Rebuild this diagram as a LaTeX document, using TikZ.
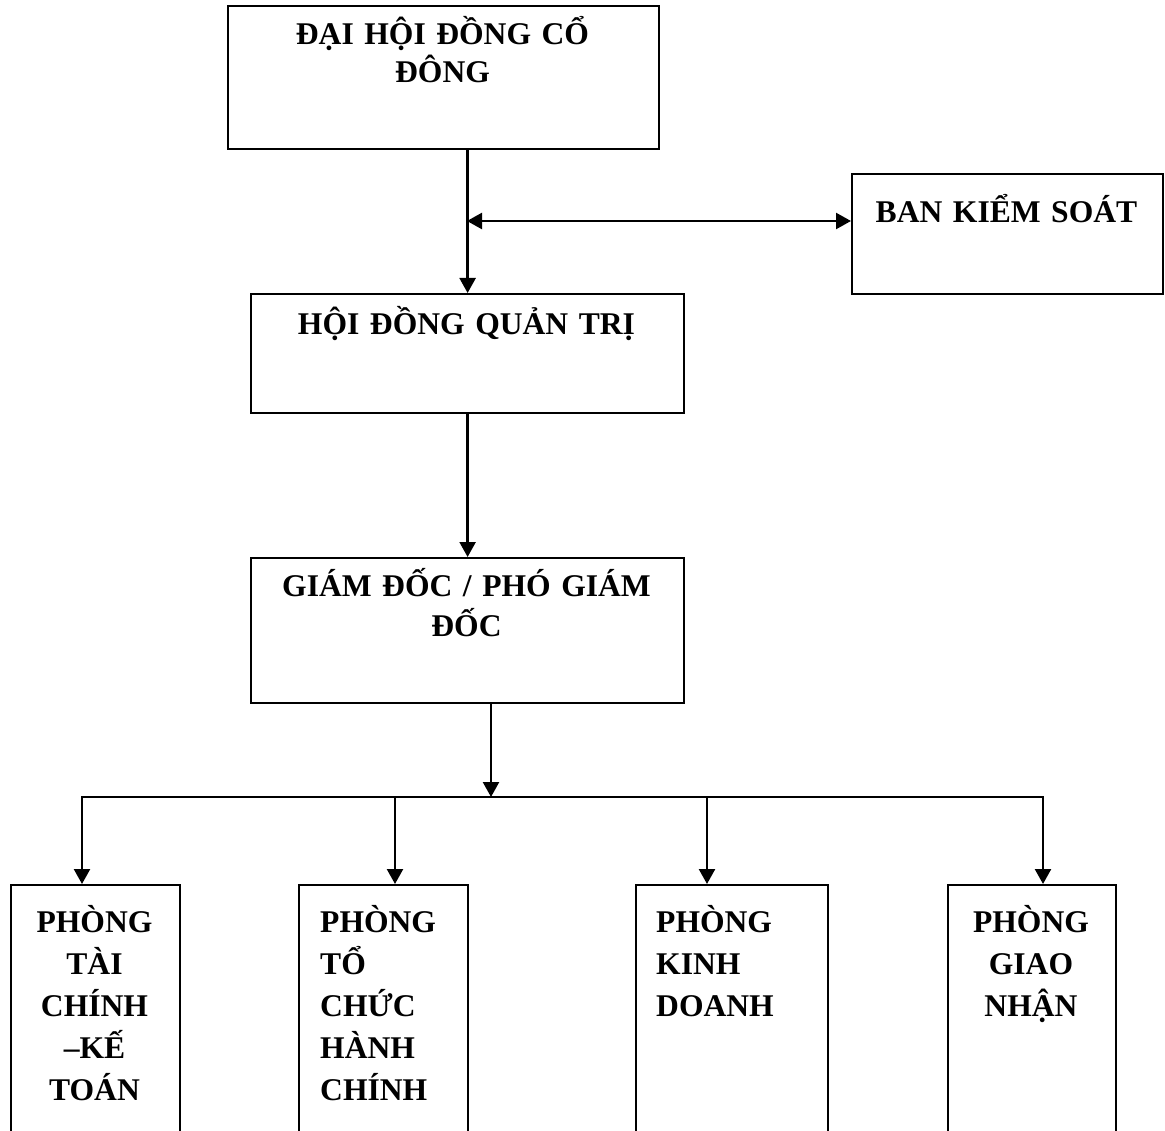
\documentclass[tikz,border=0pt]{standalone}
\usepackage{fontspec}
\setmainfont{Liberation Serif}
\usetikzlibrary{arrows.meta,calc}
\begin{document}
\begin{tikzpicture}[x=1pt,y=-1pt,
  box/.style={draw=black, line width=2.2pt, rectangle, inner sep=0pt, anchor=north west},
  lbl/.style={inner sep=0pt, font=\bfseries\fontsize{31.6}{42}\selectfont},
  conn/.style={line width=2.4pt, draw=black},
  arr/.style={conn, -{Triangle[length=15pt,width=16pt]}},
  darr/.style={conn, {Triangle[length=15pt,width=16pt]}-{Triangle[length=15pt,width=16pt]}}
]
\clip (0,0) rectangle (1165,1131);
\fill[white] (0,0) rectangle (1165,1131);

% boxes
\node[box, minimum width=431pt, minimum height=143pt] (b1) at (227,5) {};
\node[box, minimum width=311pt, minimum height=120pt] (bks) at (851,173) {};
\node[box, minimum width=433pt, minimum height=119pt] (b2) at (250,293) {};
\node[box, minimum width=433pt, minimum height=145pt] (b3) at (250,557) {};
\node[box, minimum width=169pt, minimum height=270pt] (p1) at (10,884) {};
\node[box, minimum width=169pt, minimum height=270pt] (p2) at (298,884) {};
\node[box, minimum width=192pt, minimum height=270pt] (p3) at (635,884) {};
\node[box, minimum width=168pt, minimum height=270pt] (p4) at (947,884) {};

% labels
\node[lbl, text width=420pt, align=center, anchor=base] (t1) at (442.5,45) {ĐẠI HỘI ĐỒNG CỔ\\[-4pt]ĐÔNG};
\node[lbl, text width=300pt, align=center, anchor=base] (tks) at (1006.5,223) {BAN KIỂM SOÁT};
\node[lbl, text width=420pt, align=center, anchor=base] (t2) at (466.5,335) {HỘI ĐỒNG QUẢN TRỊ};
\node[lbl, text width=420pt, align=center, anchor=base] (t3) at (466.5,596) {GIÁM ĐỐC / PHÓ GIÁM\\[-2pt]ĐỐC};
\node[lbl, text width=160pt, align=center, anchor=base] (tp1) at (94.5,932) {PHÒNG\\TÀI\\CHÍNH\\–KẾ\\TOÁN};
\node[lbl, text width=140pt, align=left, anchor=base west] (tp2) at (320,932) {PHÒNG\\TỔ\\CHỨC\\HÀNH\\CHÍNH};
\node[lbl, text width=160pt, align=left, anchor=base west] (tp3) at (656,932) {PHÒNG\\KINH\\DOANH};
\node[lbl, text width=160pt, align=center, anchor=base] (tp4) at (1031,932) {PHÒNG\\GIAO\\NHẬN};

% connectors
\draw[arr] (b1.south -| b2.north) -- (b2.north);
\coordinate (ha) at (467,221);
\draw[darr] (ha) -- (ha -| bks.west);
\draw[arr] (b2.south) -- (b3.north);

\coordinate (j) at (491,797);
\coordinate (d1) at (82,797);
\coordinate (d2) at (395,797);
\coordinate (d3) at (707,797);
\coordinate (d4) at (1043,797);
\draw[arr] (b3.south -| j) -- (j);
\draw[conn, line cap=rect] (d1) -- (d4);
\draw[arr] (d1) -- (d1 |- p1.north);
\draw[arr] (d2) -- (d2 |- p2.north);
\draw[arr] (d3) -- (d3 |- p3.north);
\draw[arr] (d4) -- (d4 |- p4.north);
\end{tikzpicture}
\end{document}
